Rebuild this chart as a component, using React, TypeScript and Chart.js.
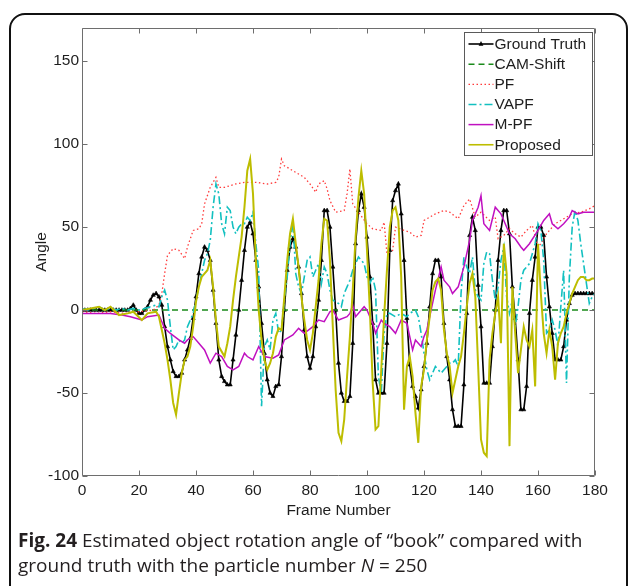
import React, { useEffect, useRef } from 'react';
import { Chart, registerables } from 'chart.js';

Chart.register(...registerables);

// Axis ticks
const xTicks = [0, 20, 40, 60, 80, 100, 120, 140, 160, 180];
const yTicks = [-100, -50, 0, 50, 100, 150];

// Ground truth angle, one value per frame (0..180)
const gtFrames = Array.from({ length: 181 }, (_, i) => i);
const gtValues = [
  0, 0, 0, 0, 0, 0, 0, 0, 0, 0,
  0, 0, 0, 0, 0, 0, 0, 1, 3, 0,
  -2, -2, 0, 2, 6, 9, 10, 8, 3, -10,
  -22, -30, -37, -40, -40, -38, -30, -24, -17, -5,
  8, 22, 32, 38, 36, 30, 12, -8, -30, -40,
  -43, -45, -45, -30, -15, 0, 18, 36, 50, 53,
  46, 30, 14, -8, -26, -42, -50, -52, -46, -45,
  -28, 0, 24, 38, 43, 38, 26, 10, -12, -28,
  -35, -28, -10, 6, 30, 60, 60, 50, 26, 0,
  -32, -50, -55, -55, -52, -20, 40, 60, 70, 62,
  44, 20, -8, -42, -50, -50, -50, -20, 36, 66,
  72, 76, 58, 30, -5, -33, -46, -52, -59, -48,
  -34, -20, 2, 22, 30, 30, 20, -8, -28, -42,
  -60, -70, -70, -70, -45, -2, 45, 56, 48, 15,
  -10, -44, -44, -44, -22, 0, 30, 48, 60, 60,
  46, 14, -5, -30, -60, -60, -46, -2, 18, 32,
  50, 50, 45, 20, 2, -14, -30, -30, -30, -22,
  -6, 4, 9, 10, 10, 10, 10, 10, 10, 10,
  10,
];

// CAM-Shift stays at zero
const camFrames = [0, 180];
const camValues = [0, 0];

// PF
const pfFrames = [
  0, 5, 10, 15, 20, 25, 27, 28, 29, 30, 32, 34, 36, 37, 39, 41, 42, 43, 45, 47,
  48, 50, 54, 57, 61, 65, 68, 69, 70, 71, 73, 75, 78, 80, 82, 83, 85, 86, 87, 89,
  92, 93, 94, 95, 97, 100, 102, 105, 106, 107, 109, 110, 113, 115, 117, 119, 120, 122, 124, 127,
  129, 132, 134, 136, 138, 140, 143, 145, 146, 148, 150, 152, 154, 156, 158, 160, 161, 163, 166, 170,
  172, 175, 178, 180,
];
const pfValues = [
  -1, -2, -1, -2, -1, 0, 3, 10, 22, 33, 37, 36, 31, 38, 48, 49, 52, 64, 74, 80,
  74, 74, 76, 77, 77, 76, 77, 80, 91, 87, 85, 83, 80, 76, 71, 76, 78, 73, 66, 59,
  60, 70, 85, 64, 59, 52, 49, 48, 53, 34, 36, 50, 48, 47, 44, 45, 54, 56, 58, 60,
  59, 55, 63, 67, 56, 59, 54, 56, 43, 45, 49, 46, 44, 48, 51, 38, 40, 46, 52, 56,
  58, 59, 61, 63,
];

// VAPF
const vapfFrames = [
  0, 2, 4, 6, 8, 10, 12, 14, 16, 18, 20, 22, 24, 26, 27, 28, 29, 30, 31, 32,
  33, 34, 35, 36, 37, 38, 39, 40, 41, 42, 43, 44, 45, 46, 47, 48, 49, 50, 51, 52,
  53, 54, 55, 56, 57, 58, 59, 60, 61, 62, 63, 64, 65, 66, 67, 68, 69, 70, 71, 72,
  73, 74, 75, 76, 77, 78, 79, 80, 81, 82, 83, 84, 85, 86, 87, 88, 89, 90, 91, 92,
  93, 94, 95, 96, 97, 98, 99, 100, 101, 102, 103, 104, 105, 106, 107, 108, 110, 112, 114, 115,
  117, 118, 119, 120, 121, 122, 123, 124, 125, 126, 127, 128, 129, 130, 131, 132, 133, 134, 135, 136,
  137, 138, 139, 140, 141, 142, 143, 144, 145, 146, 147, 148, 149, 150, 151, 152, 153, 154, 155, 156,
  157, 158, 159, 160, 161, 162, 163, 164, 165, 166, 167, 168, 169, 170, 171, 172, 173, 174, 175, 176,
  177, 178, 179, 180,
];
const vapfValues = [
  1, 0, 1, 2, 0, 1, 0, 1, 0, 1, 0, 1, 2, 3, 2, 8, 12, 6, -10, -24,
  -22, -18, -20, -18, -10, -6, -2, 6, 14, 22, 30, 34, 42, 62, 76, 70, 52, 46, 62, 60,
  50, 46, 50, 52, 52, 56, 54, 59, 40, 24, -58, -22, -18, -24, -6, -2, -14, -12, 6, 20,
  40, 54, 22, 14, 10, 20, 30, 32, 20, 24, 28, 16, 26, 22, 12, 6, 5, 4, 2, 10,
  14, 18, 24, 28, 32, 30, 28, 20, 16, 20, 12, -40, -50, -14, -2, -2, -4, -2, -4, -2,
  0, -4, -14, -26, -36, -42, -38, -34, -36, -38, -36, -34, -32, -32, -30, -34, 10, 32, 26, 22,
  32, 12, 8, 6, 28, 35, 34, 18, 6, 14, 30, 38, 8, -2, 6, -10, 2, 18, 24, 26,
  28, 34, 40, 52, 48, 30, -14, -12, -6, -12, -22, 2, 24, -44, 20, 50, 60, 54, 40, 28,
  16, 4, 8, 10,
];

// M-PF
const mpfFrames = [
  0, 5, 10, 14, 17, 21, 23, 27, 29, 31, 34, 36, 37, 39, 41, 43, 45, 47, 49, 51,
  53, 55, 57, 58, 60, 62, 64, 67, 69, 71, 74, 76, 78, 81, 83, 85, 87, 88, 90, 93,
  94, 95, 96, 98, 99, 100, 102, 103, 105, 106, 108, 110, 112, 114, 116, 117, 119, 120, 121, 122,
  124, 126, 127, 129, 130, 132, 134, 136, 137, 139, 140, 141, 143, 145, 147, 148, 150, 152, 154, 155,
  157, 160, 162, 164, 165, 167, 169, 171, 172, 174, 176, 180,
];
const mpfValues = [
  -2, -2, -2, -3, -4, -6, -4, -3, -11, -14, -18, -20, -18, -16, -20, -24, -32, -26, -28, -34,
  -36, -34, -26, -28, -30, -22, -28, -29, -27, -18, -15, -11, -14, -10, -6, -7, -1, 0, -6, -4,
  -2, 3, -4, 0, 2, 0, -8, -14, -6, -8, -10, -14, -6, -8, -24, -18, -22, -16, -12, -4,
  12, 26, 18, 14, 10, 14, 26, 42, 54, 62, 69, 52, 48, 62, 58, 54, 46, 43, 38, 36,
  40, 48, 54, 58, 52, 49, 52, 56, 60, 58, 59, 59,
];

// Proposed
const propFrames = [
  0, 3, 6, 8, 10, 13, 16, 18, 21, 23, 26, 27, 28, 29, 30, 31, 32, 33, 34, 35,
  36, 37, 38, 39, 40, 41, 42, 44, 45, 46, 47, 48, 50, 51, 52, 53, 54, 55, 56, 57,
  58, 59, 60, 61, 62, 63, 64, 65, 66, 67, 68, 69, 70, 71, 72, 73, 74, 75, 76, 77,
  78, 79, 80, 81, 82, 83, 84, 85, 86, 87, 88, 89, 90, 91, 92, 93, 94, 95, 96, 97,
  98, 99, 100, 101, 102, 103, 104, 105, 106, 107, 108, 109, 110, 111, 112, 113, 114, 115, 116, 117,
  118, 119, 120, 121, 122, 123, 124, 125, 126, 127, 128, 129, 130, 131, 132, 133, 134, 135, 136, 137,
  138, 139, 140, 141, 142, 143, 144, 145, 146, 147, 148, 149, 150, 151, 152, 153, 154, 155, 156, 157,
  158, 159, 160, 161, 162, 163, 164, 165, 166, 167, 168, 169, 170, 171, 172, 173, 174, 175, 176, 177,
  178, 179, 180,
];
const propValues = [
  0, 1, 2, 0, 2, -3, -2, -1, -6, -2, -1, -4, -12, -20, -30, -42, -56, -63, -50, -38,
  -30, -28, -22, -10, 5, 14, 20, 24, 30, 14, -6, -22, -28, -20, -10, 6, 20, 32, 44, 62,
  84, 91, 70, 30, 0, -18, -30, -36, -32, -26, -16, -11, -12, 8, 30, 46, 55, 40, 26, 8,
  -6, -18, -24, -14, 2, 18, 40, 55, 54, 30, -10, -48, -74, -79, -66, -40, -16, 12, 44, 68,
  84, 70, 36, 0, -44, -72, -70, -36, -4, 24, 50, 60, 62, 54, 20, -60, -34, -28, -40, -62,
  -80, -46, -36, -18, -4, 12, 17, 19, 12, -12, -26, -34, -50, -42, -34, -28, -14, 2, 16, 22,
  8, -34, -78, -86, -88, -30, -14, -2, 8, -20, 40, 22, -82, 14, -14, -38, -24, -10, -18, -22,
  -12, -46, 40, 10, -14, -26, -12, -22, -42, -20, -14, -10, -2, 4, 10, 14, 18, 20, 20, 18,
  18, 19, 19,
];

const pts = (xs: number[], ys: number[]) => xs.map((x, i) => ({ x, y: ys[i] }));

const AXIS_FONT = '"Liberation Sans", Arial, Helvetica, sans-serif';
const AXIS_COLOR = '#6e6e6e';
const TEXT_COLOR = '#1e1e1e';

// Inward tick marks, full box, and the legend panel
const axesDecor = {
  id: 'axesDecor',
  afterDatasetsDraw(chart: any) {
    const { ctx, chartArea } = chart;
    const { left, right, top, bottom } = chartArea;
    const xs = chart.scales.x;
    const ys = chart.scales.y;
    const L = Math.round(left) + 0.5;
    const R = Math.round(right) - 0.5;
    const T = Math.round(top) + 0.5;
    const B = Math.round(bottom) - 0.5;
    ctx.save();
    ctx.strokeStyle = AXIS_COLOR;
    ctx.lineWidth = 1;
    ctx.setLineDash([]);
    ctx.beginPath();
    ctx.rect(L, T, R - L, B - T);
    const tl = 5;
    xTicks.forEach((v) => {
      const px = Math.round(xs.getPixelForValue(v)) + 0.5;
      ctx.moveTo(px, B);
      ctx.lineTo(px, B - tl);
      ctx.moveTo(px, T);
      ctx.lineTo(px, T + tl);
    });
    yTicks.forEach((v) => {
      const py = Math.round(ys.getPixelForValue(v)) + 0.5;
      ctx.moveTo(L, py);
      ctx.lineTo(L + tl, py);
      ctx.moveTo(R, py);
      ctx.lineTo(R - tl, py);
    });
    ctx.stroke();

    // legend
    const bw = 128;
    const bh = 123;
    const bx = Math.round(right) - 3 - bw + 0.5;
    const by = Math.round(top) + 4 + 0.5;
    ctx.fillStyle = '#ffffff';
    ctx.fillRect(bx, by, bw, bh);
    ctx.strokeStyle = '#5a5a5a';
    ctx.strokeRect(bx, by, bw, bh);
    ctx.font = `15.5px ${AXIS_FONT}`;
    ctx.textBaseline = 'middle';
    ctx.textAlign = 'left';
    chart.data.datasets.forEach((ds: any, i: number) => {
      const y = by + 11.5 + i * 20.15;
      ctx.save();
      ctx.strokeStyle = ds.borderColor;
      ctx.lineWidth = Math.min(ds.borderWidth, 1.6);
      ctx.setLineDash(ds.borderDash || []);
      ctx.beginPath();
      ctx.moveTo(bx + 4, y);
      ctx.lineTo(bx + 29, y);
      ctx.stroke();
      if (ds.pointRadius > 0) {
        const cx = bx + 16.5;
        const r = ds.pointRadius;
        ctx.setLineDash([]);
        ctx.fillStyle = ds.pointBackgroundColor;
        ctx.beginPath();
        ctx.moveTo(cx, y - r * 1.2);
        ctx.lineTo(cx + r, y + r * 0.7);
        ctx.lineTo(cx - r, y + r * 0.7);
        ctx.closePath();
        ctx.fill();
      }
      ctx.restore();
      ctx.fillStyle = TEXT_COLOR;
      ctx.fillText(ds.label, bx + 30, y + 0.5);
    });
    ctx.restore();
  },
};

export default function App() {
  const canvasRef = useRef<HTMLCanvasElement | null>(null);

  useEffect(() => {
    const canvas = canvasRef.current;
    if (!canvas) return;
    const tickFont = { family: AXIS_FONT, size: 15.5 };
    const chart = new Chart(canvas, {
      type: 'line',
      data: {
        datasets: [
          {
            label: 'Ground Truth',
            data: pts(gtFrames, gtValues),
            borderColor: '#000000',
            borderWidth: 1.6,
            pointStyle: 'triangle',
            pointRadius: 2.4,
            pointBackgroundColor: '#000000',
            pointBorderColor: '#000000',
            pointBorderWidth: 0.6,
            order: 6,
          },
          {
            label: 'CAM-Shift',
            data: pts(camFrames, camValues),
            borderColor: '#1a8a1a',
            borderWidth: 1.5,
            borderDash: [6, 4],
            pointRadius: 0,
            order: 5,
          },
          {
            label: 'PF',
            data: pts(pfFrames, pfValues),
            borderColor: '#ff3b3b',
            borderWidth: 1.3,
            borderDash: [1.5, 2.5],
            pointRadius: 0,
            order: 4,
          },
          {
            label: 'VAPF',
            data: pts(vapfFrames, vapfValues),
            borderColor: '#12c0c0',
            borderWidth: 1.6,
            borderDash: [8, 3, 2, 3],
            pointRadius: 0,
            order: 3,
          },
          {
            label: 'M-PF',
            data: pts(mpfFrames, mpfValues),
            borderColor: '#c010c0',
            borderWidth: 1.5,
            pointRadius: 0,
            order: 2,
          },
          {
            label: 'Proposed',
            data: pts(propFrames, propValues),
            borderColor: '#bdbd00',
            borderWidth: 2,
            pointRadius: 0,
            order: 1,
          },
        ],
      },
      options: {
        animation: false,
        responsive: false,
        devicePixelRatio: 1,
        layout: { padding: { left: 0, top: 28, right: 35, bottom: 60 } },
        plugins: {
          legend: { display: false },
          tooltip: { enabled: false },
        },
        elements: { line: { tension: 0 } },
        scales: {
          x: {
            type: 'linear',
            min: 0,
            max: 180,
            afterBuildTicks: (s: any) => {
              s.ticks = xTicks.map((v) => ({ value: v }));
            },
            afterFit: (s: any) => {
              s.height = 50;
            },
            grid: { display: false, drawTicks: false },
            border: { display: false },
            ticks: {
              color: TEXT_COLOR,
              font: tickFont,
              padding: 5,
              maxRotation: 0,
              autoSkip: false,
            },
            title: {
              display: true,
              text: 'Frame Number',
              color: TEXT_COLOR,
              font: tickFont,
              padding: { top: 0, bottom: 6 },
            },
          },
          y: {
            type: 'linear',
            min: -100,
            max: 170,
            afterBuildTicks: (s: any) => {
              s.ticks = yTicks.map((v) => ({ value: v }));
            },
            afterFit: (s: any) => {
              s.width = 82;
            },
            grid: { display: false, drawTicks: false },
            border: { display: false },
            ticks: {
              color: TEXT_COLOR,
              font: tickFont,
              padding: 3,
              autoSkip: false,
            },
            title: {
              display: true,
              text: 'Angle',
              color: TEXT_COLOR,
              font: tickFont,
              padding: { top: 32, bottom: 0 },
            },
          },
        },
      },
      plugins: [axesDecor],
    } as any);
    return () => chart.destroy();
  }, []);

  return (
    <div
      style={{
        position: 'absolute',
        left: 0,
        top: 0,
        width: 630,
        height: 586,
        overflow: 'hidden',
        background: '#ffffff',
      }}
    >
      <div
        style={{
          position: 'absolute',
          left: 9,
          top: 13,
          width: 619,
          height: 620,
          boxSizing: 'border-box',
          border: '2px solid #111',
          borderRadius: 16,
        }}
      />
      <canvas
        ref={canvasRef}
        width={630}
        height={586}
        style={{ position: 'absolute', left: 0, top: 0, width: 630, height: 586 }}
      />
      <div
        style={{
          position: 'absolute',
          left: 18,
          top: 528,
          width: 610,
          fontFamily: '"Open Sans", "Noto Sans", sans-serif',
          fontSize: 19,
          lineHeight: '25px',
          color: '#231f20',
          whiteSpace: 'nowrap',
        }}
      >
        <div>
          <b>Fig. 24</b> Estimated object rotation angle of “book” compared with
        </div>
        <div>
          ground truth with the particle number <i>N</i> = 250
        </div>
      </div>
    </div>
  );
}
